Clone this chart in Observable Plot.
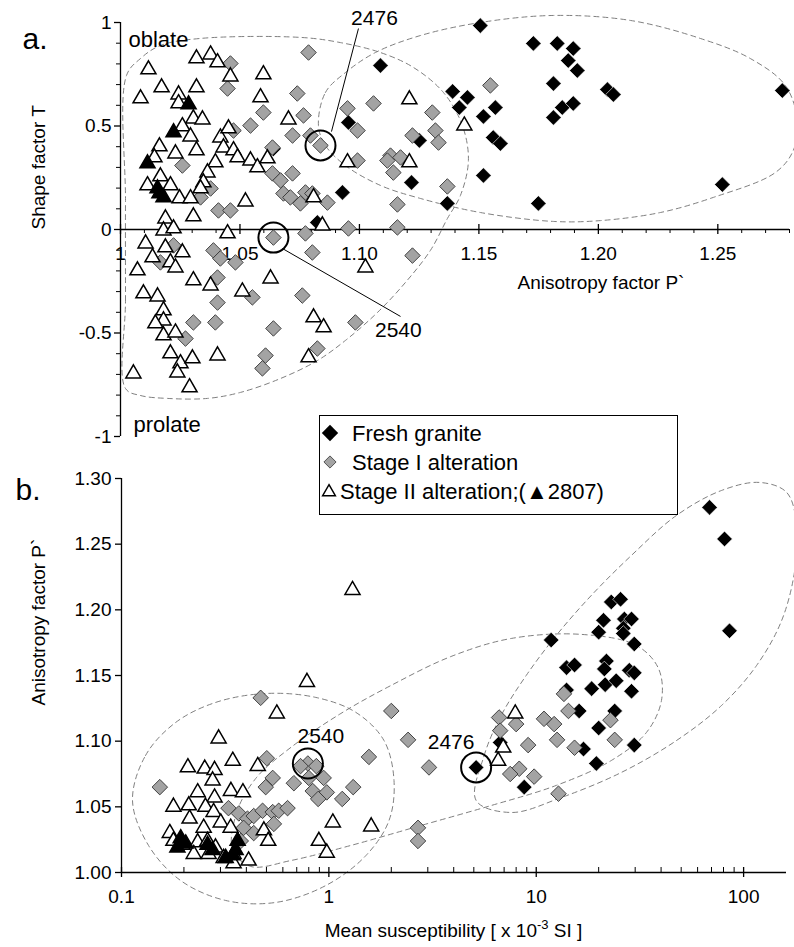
<!DOCTYPE html>
<html><head><meta charset="utf-8">
<script src="https://cdn.jsdelivr.net/npm/d3@7"></script>
<script src="https://cdn.jsdelivr.net/npm/@observablehq/plot@0.6"></script>
<style>
body{margin:0;background:#fff;}
#fig{position:relative;width:794px;height:947px;overflow:hidden;font-family:'Liberation Sans',Arial,sans-serif;}
#fig > svg{position:absolute;left:0;}
</style></head><body><div id="fig"></div>
<script>
const FONT = "'Liberation Sans', Arial, Helvetica, sans-serif";

// ---------- Panel a: Shape factor T vs Anisotropy factor P' ----------
const freshA = [[1.1088,0.792],[1.0954,0.517],[1.0929,0.179],[1.0824,0.034],[1.064,0.39],
[1.1506,0.985],[1.1728,0.899],[1.1828,0.899],[1.1895,0.874],[1.1874,0.816],[1.1912,0.768],[1.1812,0.705],[1.2038,0.676],[1.2063,0.652],[1.1849,0.589],[1.1895,0.609],[1.1812,0.541],[1.277,0.671],[1.139,0.667],[1.1452,0.638],[1.1418,0.589],[1.1519,0.546],[1.1569,0.589],[1.156,0.444],[1.159,0.415],[1.1251,0.430],[1.1218,0.227],[1.1519,0.261],[1.1368,0.126],[1.1749,0.126],[1.2519,0.217]];
const stage1A = [[1.046,0.802],[1.0448,0.681],[1.0259,0.309],[1.0473,0.478],[1.0544,0.502],[1.0598,0.565],[1.074,0.657],[1.0766,0.551],[1.072,0.454],[1.0787,0.855],[1.0795,0.454],[1.0837,0.406],[1.095,0.585],[1.1059,0.609],[1.0992,0.478],[1.0992,0.333],[1.0636,0.396],[1.0335,0.155],[1.0377,0.198],[1.041,0.092],[1.046,0.092],[1.0636,0.271],[1.067,0.237],[1.072,0.271],[1.0682,0.174],[1.0711,0.155],[1.0753,0.126],[1.0774,0.179],[1.0803,0.174],[1.0866,0.130],[1.0954,0.005],
[1.1548,0.696],[1.1305,0.565],[1.1318,0.478],[1.1331,0.420],[1.1222,0.454],[1.113,0.357],[1.1117,0.333],[1.1172,0.348],[1.1142,0.275],[1.1368,0.208],[1.1159,0.121],[1.1159,0.010],
[1.0222,-0.077],[1.0167,-0.159],[1.0389,-0.101],[1.0418,-0.140],[1.0481,-0.159],[1.0406,-0.232],[1.0552,-0.328],[1.0406,-0.353],[1.0305,-0.449],[1.0397,-0.449],[1.0272,-0.527],[1.064,-0.039],[1.0774,-0.019],[1.0803,-0.111],[1.0761,-0.319],[1.064,-0.478],[1.0607,-0.609],[1.0594,-0.671],[1.0824,-0.575],[1.0983,-0.449],[1.1222,-0.126]];
const stage2A = [[1.0117,0.773],[1.0084,0.633],[1.0172,0.686],[1.0243,0.652],[1.0318,0.686],[1.0243,0.609],[1.0318,0.826],[1.0377,0.845],[1.0406,0.807],[1.046,0.739],[1.0598,0.749],[1.0586,0.638],[1.0305,0.536],[1.0343,0.531],[1.0259,0.498],[1.0293,0.449],[1.0163,0.401],[1.0142,0.348],[1.023,0.367],[1.0318,0.382],[1.0418,0.444],[1.0452,0.488],[1.0431,0.396],[1.0473,0.382],[1.049,0.348],[1.0397,0.324],[1.0364,0.275],[1.0347,0.227],[1.0335,0.198],[1.0544,0.333],[1.0573,0.300],[1.0615,0.343],[1.0703,0.531],[1.0167,0.256],[1.0113,0.213],[1.0209,0.213],[1.0247,0.150],[1.0293,0.150],[1.0523,0.135],[1.0305,0.063],[1.0188,0.053],[1.0808,0.155],[1.0845,0.019],[1.095,0.324],
[1.1209,0.628],[1.1439,0.502],[1.1209,0.324],
[1.0105,-0.068],[1.018,-0.005],[1.0188,-0.087],[1.0222,0.005],[1.0259,-0.111],[1.0134,-0.135],[1.0071,-0.198],[1.0209,-0.159],[1.023,-0.184],[1.0305,-0.246],[1.0448,-0.019],[1.0377,-0.271],[1.051,-0.300],[1.0628,-0.237],[1.1025,-0.184],[1.0096,-0.309],[1.0155,-0.324],[1.018,-0.391],[1.018,-0.440],[1.0146,-0.454],[1.018,-0.512],[1.023,-0.498],[1.0209,-0.599],[1.0251,-0.647],[1.0238,-0.691],[1.0301,-0.623],[1.0406,-0.609],[1.0289,-0.763],[1.0054,-0.696],[1.0808,-0.425],[1.085,-0.473],[1.0787,-0.618]];
const s2807A = [[1.0113,0.319],[1.0222,0.469],[1.0285,0.604],[1.0155,0.198],[1.0163,0.174],[1.018,0.155]];
const circledA = [[1.0837,0.406],[1.064,-0.039]];
const leadersA = [[1.0883,0.473,1.0996,0.971],[1.0678,-0.092,1.1172,-0.420]];
const labelsA = [[1.1063,1.019,"2476"],[1.1163,-0.488,"2540"]];
const outlineA1 = [[1.00209,-0.768],[1.00209,-0.343],[1.00209,0.140],[1.00251,0.744],[1.00837,0.826],[1.01674,0.889],[1.03347,0.923],[1.07531,0.928],[1.09205,0.903],[1.10879,0.855],[1.12259,0.783],[1.13515,0.662],[1.14310,0.502],[1.14561,0.333],[1.14226,0.164],[1.13682,0.053],[1.12971,-0.101],[1.11925,-0.256],[1.10753,-0.401],[1.09414,-0.536],[1.08243,-0.633],[1.06695,-0.720],[1.05021,-0.787],[1.03640,-0.816],[1.01967,-0.816],[1.00837,-0.802]];
const outlineA2 = [[1.08285,0.502],[1.08577,0.662],[1.09414,0.758],[1.10669,0.855],[1.12552,0.937],[1.15063,1.000],[1.18117,1.034],[1.21339,1.010],[1.24268,0.923],[1.26360,0.826],[1.27824,0.696],[1.28326,0.527],[1.28159,0.382],[1.27406,0.275],[1.24812,0.155],[1.22594,0.082],[1.20084,0.043],[1.18117,0.039],[1.15063,0.082],[1.12552,0.150],[1.10879,0.213],[1.09414,0.309],[1.08577,0.406]];
const PA_major = [1, 1.05, 1.10, 1.15, 1.20, 1.25];
const PA_labels = ["1", "1.05", "1.10", "1.15", "1.20", "1.25"];
const PA_minor = [1.01,1.02,1.03,1.04,1.06,1.07,1.08,1.09,1.11,1.12,1.13,1.14,1.16,1.17,1.18,1.19,1.21,1.22,1.23,1.24,1.26,1.27,1.28];
const TA_major = [-1, -0.5, 0, 0.5, 1];
const TA_labels = ["-1", "-0.5", "0", "0.5", "1"];
const TA_minor = [-0.9,-0.8,-0.7,-0.6,-0.4,-0.3,-0.2,-0.1,0.1,0.2,0.3,0.4,0.6,0.7,0.8,0.9];

// ---------- Panel b: Anisotropy factor P' vs Mean susceptibility ----------
const freshB = [[68.5,1.278],[80.9,1.254],[85.5,1.184],[11.8,1.177],[23.0,1.206],[25.5,1.208],[21.1,1.192],[26.6,1.193],[28.8,1.193],[20.0,1.183],[26.3,1.186],[26.3,1.182],[29.7,1.174],[14.0,1.156],[15.3,1.158],[21.8,1.161],[21.3,1.155],[28.1,1.154],[29.7,1.152],[18.5,1.140],[21.5,1.143],[24.3,1.146],[28.8,1.138],[14.0,1.139],[16.1,1.123],[23.9,1.123],[20.0,1.110],[16.9,1.094],[19.5,1.083],[29.7,1.097],[6.70,1.099],[5.13,1.080],[8.75,1.065]];
const stage1B = [[13.6,1.136],[14.3,1.123],[12.2,1.113],[10.9,1.117],[12.6,1.101],[15.3,1.095],[22.8,1.116],[23.9,1.101],[12.8,1.060],[6.62,1.118],[6.70,1.108],[8.0,1.113],[9.14,1.097],[8.28,1.079],[7.49,1.075],[9.77,1.073],[2.0,1.123],[2.41,1.101],[3.04,1.080],[2.69,1.034],[2.69,1.024],
[0.469,1.133],[0.153,1.065],[0.502,1.087],[0.536,1.072],[0.496,1.065],[0.678,1.068],[0.792,1.083],[0.73,1.081],[0.87,1.081],[0.80,1.072],[0.944,1.072],[0.836,1.062],[0.977,1.061],[0.888,1.056],[1.16,1.056],[1.31,1.065],[1.56,1.088],[0.328,1.049],[0.368,1.045],[0.405,1.041],[0.434,1.043],[0.479,1.047],[0.536,1.046],[0.573,1.047],[0.632,1.049],[0.543,1.037],[0.434,1.030],[0.388,1.034],[0.376,1.024]];
const stage2B = [[7.92,1.121],[6.93,1.095],[6.55,1.085],[1.3,1.215],
[0.784,1.145],[0.561,1.121],[0.294,1.102],[0.344,1.085],[0.454,1.081],[0.209,1.080],[0.252,1.079],[0.281,1.078],[0.275,1.070],[0.233,1.061],[0.281,1.057],[0.178,1.050],[0.211,1.051],[0.254,1.050],[0.337,1.062],[0.385,1.061],[0.213,1.041],[0.171,1.030],[1.045,1.038],[1.60,1.035],[0.895,1.024],[0.977,1.015],
[0.278,1.046],[0.249,1.034],[0.301,1.038],[0.336,1.034],[0.486,1.032],[0.51,1.024],[0.178,1.024],[0.197,1.021],[0.233,1.023],[0.26,1.024],[0.284,1.019],[0.223,1.014],[0.347,1.014],[0.41,1.009],[0.347,1.007],[0.311,1.011],[0.263,1.014]];
const s2807B = [[0.193,1.026],[0.204,1.022],[0.186,1.019],[0.26,1.021],[0.275,1.017],[0.318,1.011],[0.344,1.013],[0.363,1.024],[0.355,1.017]];
const circledB = [[5.13,1.080],[0.792,1.083]];
const labelsB = [[3.885,1.099,"2476"],[0.915,1.104,"2540"]];
const outlineB1 = [[0.1130,1.0548],[0.1306,1.0891],[0.1823,1.1142],[0.2845,1.1295],[0.4962,1.1363],[0.8654,1.1333],[1.350,1.1219],[1.844,1.1005],[2.061,1.0701],[1.950,1.0396],[1.509,1.0129],[0.9672,0.9901],[0.5546,0.9772],[0.3180,0.9787],[0.1928,0.9939],[0.1350,1.0206]];
const outlineB2 = [[0.3438,1.0168],[0.3594,1.0457],[0.4439,1.0716],[0.6552,1.0952],[1.143,1.1211],[1.993,1.1424],[3.885,1.1645],[7.572,1.1782],[16.50,1.1813],[30.42,1.1729],[38.85,1.1554],[40.17,1.1310],[33.99,1.1066],[23.03,1.0853],[12.49,1.0663],[6.062,1.0510],[2.783,1.0358],[1.277,1.0206],[0.6552,1.0091],[0.4200,1.0046]];
const outlineB3 = [[5.130,1.0548],[5.609,1.0891],[6.775,1.1196],[8.944,1.1500],[12.49,1.1805],[18.44,1.2110],[28.76,1.2414],[47.47,1.2719],[78.29,1.2909],[119.5,1.2970],[161.3,1.2894],[180.3,1.2643],[176.4,1.2300],[152.6,1.1919],[115.6,1.1577],[78.29,1.1272],[47.47,1.1005],[25.74,1.0762],[13.21,1.0571],[7.572,1.0457]];
const KB_major = [0.1, 1, 10, 100];
const KB_labels = ["0.1", "1", "10", "100"];
const KB_minor = [0.2,0.3,0.4,0.5,0.6,0.7,0.8,0.9,2,3,4,5,6,7,8,9,20,30,40,50,60,70,80,90];
const PB_major = [1.00,1.05,1.10,1.15,1.20,1.25,1.30];
const PB_labels = ["1.00","1.05","1.10","1.15","1.20","1.25","1.30"];

const legendLabels = ["Fresh granite", "Stage I alteration", "Stage II alteration;(\u25B22807)"];

// ---------- styles ----------
const GRAY = "#a3a3a3";
const dash = {stroke: "#808080", strokeWidth: 1, strokeDasharray: "5,4", curve: "catmull-rom-closed"};
const px = d => d[0], py = d => d[1];
const pts = (data, extra) => ({x: px, y: py, ...extra});
const symbolMarks = (fresh, s1, s2, s28) => [
  Plot.dot(fresh, pts(fresh, {symbol: "diamond2", r: 7, fill: "black", stroke: "white", strokeWidth: 0.6})),
  Plot.dot(s1, pts(s1, {symbol: "diamond2", r: 7, fill: GRAY, stroke: "#333", strokeWidth: 0.9})),
  Plot.dot(s2, pts(s2, {symbol: "triangle", r: 5.6, fill: "white", stroke: "black", strokeWidth: 1.5})),
  Plot.dot(s28, pts(s28, {symbol: "triangle", r: 5.6, fill: "black", stroke: "black", strokeWidth: 1.5}))
];

const fig = document.getElementById("fig");

const plotA = Plot.plot({
  width: 794, height: 460,
  marginTop: 22, marginRight: 5, marginBottom: 24, marginLeft: 120,
  x: {type: "linear", domain: [1, 1.28], axis: null},
  y: {type: "linear", domain: [-1, 1], axis: null},
  style: {fontFamily: FONT, fontSize: "19px", color: "black", background: "transparent", overflow: "visible"},
  marks: [
    Plot.line(outlineA1, {x: px, y: py, ...dash}),
    Plot.line(outlineA2, {x: px, y: py, ...dash}),
    Plot.ruleX([1], {stroke: "black", strokeWidth: 1.3}),
    Plot.ruleY([0], {stroke: "black", strokeWidth: 1.3}),
    Plot.ruleY(TA_major, {y: d => d, x1: () => 1, x2: () => 1, insetLeft: -6, stroke: "black", strokeWidth: 1.3}),
    Plot.ruleY(TA_minor, {y: d => d, x1: () => 1, x2: () => 1, insetLeft: -4, stroke: "black"}),
    Plot.ruleX(PA_major, {x: d => d, y1: () => 0, y2: () => 0, insetTop: -5, insetBottom: -5, stroke: "black", strokeWidth: 1.3}),
    Plot.ruleX(PA_minor, {x: d => d, y1: () => 0, y2: () => 0, insetBottom: -4, stroke: "black"}),
    Plot.text(TA_major, {x: () => 1, y: d => d, text: (d, i) => TA_labels[i], textAnchor: "end", dx: -9, fontSize: 19}),
    Plot.text(PA_major, {x: d => d, y: () => 0, text: (d, i) => PA_labels[i], dy: 24, fontSize: 19}),
    ...symbolMarks(freshA, stage1A, stage2A, s2807A),
    Plot.dot(circledA, {x: px, y: py, r: 15, stroke: "black", strokeWidth: 2, fill: "none"}),
    Plot.link(leadersA, {x1: d => d[0], y1: d => d[1], x2: d => d[2], y2: d => d[3], stroke: "black", strokeWidth: 1}),
    Plot.text(labelsA, {x: px, y: py, text: d => d[2], fontSize: 21}),
    Plot.text(["Shape factor T"], {frameAnchor: "left", dx: -82, rotate: -90, fontSize: 19}),
    Plot.text(["Anisotropy factor P`"], {frameAnchor: "middle", dx: 146, dy: 53, fontSize: 19}),
    Plot.text(["oblate"], {frameAnchor: "top-left", dx: 8, dy: 9, textAnchor: "start", fontSize: 22}),
    Plot.text(["prolate"], {frameAnchor: "bottom-left", dx: 13, dy: -5, textAnchor: "start", fontSize: 22}),
    Plot.text(["a."], {frameAnchor: "top-left", dx: -98, dy: 5, textAnchor: "start", fontSize: 30})
  ]
});
plotA.style.top = "0px";
fig.appendChild(plotA);

const plotB = Plot.plot({
  width: 794, height: 487,
  marginTop: 18, marginRight: 8, marginBottom: 75, marginLeft: 121,
  x: {type: "log", domain: [0.1, 161], axis: null},
  y: {type: "linear", domain: [1.0, 1.3], axis: null},
  style: {fontFamily: FONT, fontSize: "19px", color: "black", background: "transparent", overflow: "visible"},
  marks: [
    Plot.line(outlineB1, {x: px, y: py, ...dash}),
    Plot.line(outlineB2, {x: px, y: py, ...dash}),
    Plot.line(outlineB3, {x: px, y: py, ...dash}),
    Plot.ruleX([0.1], {stroke: "black", strokeWidth: 1.3}),
    Plot.ruleY([1.0], {stroke: "black", strokeWidth: 1.3}),
    Plot.ruleY(PB_major, {y: d => d, x1: () => 0.1, x2: () => 0.1, insetLeft: -6, stroke: "black", strokeWidth: 1.3}),
    Plot.ruleX(KB_major, {x: d => d, y1: () => 1, y2: () => 1, insetTop: -5, insetBottom: -5, stroke: "black", strokeWidth: 1.3}),
    Plot.ruleX(KB_minor, {x: d => d, y1: () => 1, y2: () => 1, insetTop: -5, stroke: "black"}),
    Plot.text(PB_major, {x: () => 0.1, y: d => d, text: (d, i) => PB_labels[i], textAnchor: "end", dx: -10, fontSize: 19}),
    Plot.text(KB_major, {x: d => d, y: () => 1, text: (d, i) => KB_labels[i], dy: 24, fontSize: 19}),
    ...symbolMarks(freshB, stage1B, stage2B, s2807B),
    Plot.dot(circledB, {x: px, y: py, r: 15, stroke: "black", strokeWidth: 2, fill: "none"}),
    Plot.text(labelsB, {x: px, y: py, text: d => d[2], fontSize: 21}),
    Plot.text(["Anisotropy factor P`"], {frameAnchor: "left", dx: -83, dy: 30, rotate: -90, fontSize: 19}),
    Plot.text(["b."], {frameAnchor: "top-left", dx: -106, dy: 0, textAnchor: "start", fontSize: 30})
  ]
});
plotB.style.top = "460px";
// x-axis title with superscript
const tB = d3.select(plotB).append("text")
  .attr("x", (121 + 786) / 2).attr("y", 477)
  .attr("text-anchor", "middle").attr("font-size", 19).attr("font-family", FONT).attr("fill", "black");
tB.append("tspan").text("Mean susceptibility [ x 10");
tB.append("tspan").attr("dy", -8).attr("font-size", 13).text("-3");
tB.append("tspan").attr("dy", 8).text(" SI ]");
fig.appendChild(plotB);

// ---------- legend ----------
const lg = d3.create("svg").attr("width", 360).attr("height", 101)
  .style("left", "319px").style("top", "415px").style("position", "absolute");
lg.append("rect").attr("x", 0.5).attr("y", 0.5).attr("width", 358).attr("height", 99)
  .attr("fill", "white").attr("stroke", "black").attr("stroke-width", 1);
const rowY = [18, 47, 76];
const sym = (type, size) => d3.symbol(type, size)();
lg.append("path").attr("d", sym(d3.symbolDiamond2, 170)).attr("transform", `translate(11,${rowY[0]})`).attr("fill", "black");
lg.append("path").attr("d", sym(d3.symbolDiamond2, 95)).attr("transform", `translate(11,${rowY[1]})`).attr("fill", GRAY).attr("stroke", "#333").attr("stroke-width", 0.8);
lg.append("path").attr("d", sym(d3.symbolTriangle, 70)).attr("transform", `translate(10,${rowY[2] + 1})`).attr("fill", "white").attr("stroke", "black").attr("stroke-width", 1.5);
legendLabels.forEach((t, i) => {
  lg.append("text").attr("x", i < 2 ? 33 : 21).attr("y", rowY[i]).attr("dy", "0.35em")
    .attr("font-family", FONT).attr("font-size", 22).attr("fill", "black").text(t);
});
fig.appendChild(lg.node());
</script></body></html>
